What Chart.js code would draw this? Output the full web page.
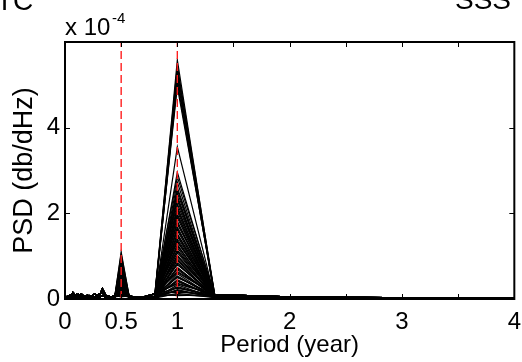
<!DOCTYPE html>
<html>
<head>
<meta charset="utf-8">
<script src="https://cdn.jsdelivr.net/npm/chart.js@4.4.1/dist/chart.umd.min.js"></script>
<style>
  html, body { margin: 0; padding: 0; background: #fff; overflow: hidden; }
  #wrap { width: 522px; height: 362px; overflow: hidden; }
</style>
</head>
<body>
<div id="wrap"><canvas id="grafico" width="530" height="362"></canvas></div>
<script>
// ===== DADOS =====
// periods (year) where the spectra are sampled
const periods = [0.01, 0.02, 0.03, 0.04, 0.05, 0.06, 0.07, 0.08, 0.09, 0.1, 0.105, 0.111, 0.118, 0.125, 0.133, 0.143, 0.154, 0.167, 0.182, 0.2, 0.211, 0.222, 0.235, 0.25, 0.267, 0.286, 0.308, 0.333, 0.364, 0.4, 0.444, 0.5, 0.571, 0.667, 0.8, 1, 1.333, 2, 4];

// low background levels (x 1e-4), one per period; the 0.5 and 1 entries get replaced by the peaks
const baseA = [0.03, 0.06, 0.04, 0.08, 0.05, 0.10, 0.06, 0.12, 0.07, 0.05, 0.09, 0.06, 0.11, 0.07, 0.08, 0.06, 0.10, 0.05, 0.07, 0.09, 0.06, 0.08, 0.05, 0.10, 0.12, 0.07, 0.09, 0.24, 0.08, 0.06, 0.05, 0, 0.05, 0.04, 0.06, 0, 0.05, 0.03, 0.02];
const baseB = [0.05, 0.02, 0.07, 0.04, 0.09, 0.03, 0.14, 0.05, 0.08, 0.10, 0.04, 0.07, 0.05, 0.09, 0.04, 0.11, 0.06, 0.08, 0.05, 0.04, 0.08, 0.05, 0.07, 0.06, 0.05, 0.09, 0.12, 0.16, 0.05, 0.04, 0.08, 0, 0.07, 0.03, 0.12, 0, 0.10, 0.05, 0.01];
const baseC = [0.02, 0.04, 0.03, 0.05, 0.03, 0.06, 0.04, 0.05, 0.03, 0.04, 0.06, 0.03, 0.05, 0.04, 0.06, 0.03, 0.05, 0.04, 0.03, 0.05, 0.04, 0.03, 0.06, 0.04, 0.03, 0.05, 0.04, 0.08, 0.03, 0.03, 0.04, 0, 0.03, 0.02, 0.02, 0, 0.03, 0.02, 0.01];

// peak values at 1 year and at 0.5 year for each curve (x 1e-4)
const peakOne = [5.58, 5.45, 5.38, 5.30, 5.22, 5.15, 5.05, 4.95, 3.55, 2.96, 2.85, 2.73, 2.60, 2.48, 2.40, 2.30, 2.22, 2.15, 2.05, 1.98, 1.90, 1.82, 1.75, 1.68, 1.60, 1.52, 1.46, 1.40, 1.33, 1.27, 1.20, 1.14, 1.08, 1.02, 0.96, 0.90, 0.85, 0.80, 0.74, 0.69, 0.64, 0.59, 0.54, 0.50, 0.45, 0.41, 0.37, 0.33, 0.29, 0.25, 0.22, 0.19, 0.16, 0.13, 0.10, 0.08,
                 2.55, 2.35, 2.10, 1.95, 1.78, 1.64, 1.50, 1.36, 1.24, 1.12, 1.00, 0.92, 0.82, 0.72, 0.62, 0.52, 0.43, 0.35, 0.27, 0.20];
const peakHalf = [0.62, 1.10, 0.35, 0.80, 0.18, 0.95, 0.50, 0.28, 0.72, 0.12, 1.05, 0.44, 0.66, 0.22, 0.88, 0.38, 0.58, 0.15, 0.78, 0.31, 0.92, 0.47, 0.09, 0.69, 0.26, 0.54, 0.83, 0.20, 0.41, 0.64, 0.07, 0.75, 0.33, 0.52, 0.14, 0.86, 0.24, 0.60, 0.40, 0.11, 0.70, 0.30, 0.48, 0.17, 0.56, 0.36, 0.06, 0.45, 0.27, 0.13, 0.39, 0.21, 0.08, 0.32, 0.16, 0.05,
                  0.98, 0.43, 0.67, 0.25, 0.84, 0.53, 0.19, 0.74, 0.34, 0.61, 0.10, 0.90, 0.46, 0.29, 0.71, 0.23, 0.57, 0.37, 0.81, 0.15];

// reference periods (red dashed lines)
const refPeriods = [0.5, 1];

// axis ticks
const xTicks = [0, 0.5, 1, 1.5, 2, 2.5, 3, 3.5, 4];
const xTickLabels = ["0", "0.5", "1", "", "2", "", "3", "", "4"];
const yTicks = [0, 2, 4];

// ===== DATASETS =====
const bases = [baseA, baseB, baseC];
const curvas = peakOne.map((p1, i) => {
  const base = bases[i % 3];
  return {
    data: periods.map((p, j) => ({ x: p, y: p === 1 ? p1 : p === 0.5 ? peakHalf[i] : base[j] })),
    borderColor: "#000",
    borderWidth: 1.2,
    pointRadius: 0,
    tension: 0,
    order: 1
  };
});

const linhasRef = refPeriods.map(p => ({
  data: [{ x: p, y: 0 }, { x: p, y: 6 }],
  borderColor: "rgb(255,30,30)",
  borderWidth: 1.4,
  borderDash: [8, 4],
  pointRadius: 0,
  order: 0
}));

// ===== PLUGIN: moldura e ticks internos (estilo MATLAB) =====
const moldura = {
  id: "moldura",
  afterDatasetsDraw(chart) {
    const { ctx, chartArea: a, scales: { x, y } } = chart;
    ctx.save();
    ctx.strokeStyle = "#000";
    ctx.lineWidth = 1;
    ctx.beginPath();
    xTicks.forEach(v => {
      const px = Math.round(x.getPixelForValue(v)) + 0.5;
      ctx.moveTo(px, a.bottom); ctx.lineTo(px, a.bottom - 5);
      ctx.moveTo(px, a.top); ctx.lineTo(px, a.top + 5);
    });
    yTicks.forEach(v => {
      const py = Math.round(y.getPixelForValue(v)) + 0.5;
      ctx.moveTo(a.left, py); ctx.lineTo(a.left + 5, py);
      ctx.moveTo(a.right, py); ctx.lineTo(a.right - 5, py);
    });
    ctx.stroke();
    ctx.lineWidth = 2;
    ctx.strokeRect(a.left, a.top, a.right - a.left, a.bottom - a.top);

    // multiplicador do eixo y
    ctx.fillStyle = "#000";
    ctx.textBaseline = "alphabetic";
    ctx.textAlign = "left";
    ctx.font = "24px 'Liberation Sans', Arial, sans-serif";
    ctx.fillText("x 10", a.left, 35);
    ctx.font = "15px 'Liberation Sans', Arial, sans-serif";
    ctx.fillText("-4", a.left + 47, 23);

    // restos de títulos cortados no topo
    ctx.font = "28px 'Liberation Sans', Arial, sans-serif";
    ctx.fillText("TC", -4, 10);
    ctx.fillText("SSS", 455, 9);
    ctx.restore();
  }
};

// ===== GRÁFICO =====
Chart.defaults.color = "#000";
Chart.defaults.font.family = "'Liberation Sans', Arial, sans-serif";

new Chart(document.getElementById("grafico"), {
  type: "line",
  data: { datasets: [...linhasRef, ...curvas] },
  options: {
    responsive: false,
    animation: false,
    events: [],
    layout: { padding: { top: 42, right: 8, bottom: 0, left: 0 } },
    plugins: { legend: { display: false }, tooltip: { enabled: false } },
    scales: {
      x: {
        type: "linear",
        min: 0,
        max: 4,
        grid: { display: false, drawTicks: false },
        border: { display: false },
        afterBuildTicks: s => { s.ticks = xTicks.map(v => ({ value: v })); },
        afterFit: s => { s.height = 63; },
        ticks: {
          autoSkip: false,
          maxRotation: 0,
          padding: 9,
          font: { size: 24 },
          callback: v => xTickLabels[xTicks.indexOf(v)]
        },
        title: { display: true, text: "Period (year)", font: { size: 24 }, padding: { top: 0, bottom: 2 } }
      },
      y: {
        min: 0,
        max: 6,
        grid: { display: false, drawTicks: false },
        border: { display: false },
        afterBuildTicks: s => { s.ticks = yTicks.map(v => ({ value: v })); },
        afterFit: s => { s.width = 65; },
        ticks: { padding: 5, font: { size: 24 } },
        title: { display: true, text: "PSD (db/dHz)", font: { size: 27 }, padding: { top: 8, bottom: 0 } }
      }
    }
  },
  plugins: [moldura]
});
</script>
</body>
</html>
